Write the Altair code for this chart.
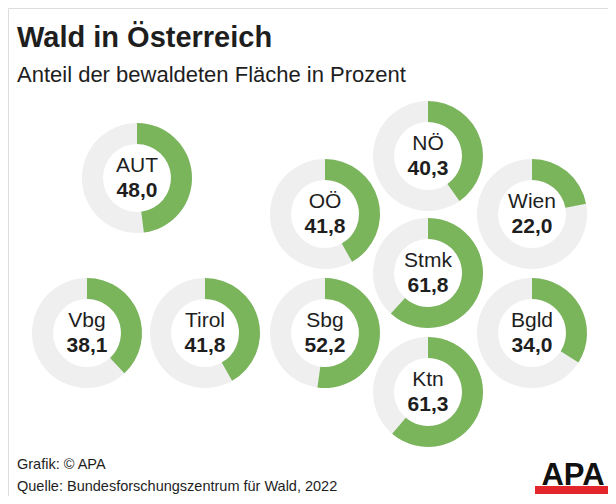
import altair as alt
import pandas as pd

regions = ["AUT", "NÖ", "OÖ", "Wien", "Stmk", "Vbg", "Tirol", "Sbg", "Bgld", "Ktn"]
values = [48.0, 40.3, 41.8, 22.0, 61.8, 38.1, 41.8, 52.2, 34.0, 61.3]
# layout position of each donut (map-like arrangement, in layout units)
pos_x = [129, 420, 317, 524, 420, 79, 197, 317, 524, 420]
pos_y = [170, 148, 206, 206, 265, 325, 325, 325, 325, 384]

labels_val = [f"{v:.1f}".replace(".", ",") for v in values]

df = pd.DataFrame({
    "region": regions,
    "value": values,
    "px": pos_x,
    "py": pos_y,
    "vlabel": labels_val,
})

W, H = 600, 488
GREEN = "#7ab55c"
GRAY = "#efefef"
FONT = "Liberation Sans"

xs = alt.Scale(domain=[0, W], range=[0, W])
ys = alt.Scale(domain=[0, H], range=[0, H])

base = alt.Chart(df).encode(
    x=alt.X("px:Q", scale=xs, axis=None),
    y=alt.Y("py:Q", scale=ys, axis=None),
)

ring = base.mark_arc(innerRadius=34, outerRadius=55, color=GRAY).encode(
    theta=alt.value(0), theta2=alt.value(6.2832)
)

arc = base.mark_arc(innerRadius=34, outerRadius=55, color=GREEN).encode(
    theta=alt.Theta("value:Q", scale=alt.Scale(domain=[0, 100], range=[0, 6.2832]), stack=False),
    theta2=alt.datum(0),
)

name_txt = base.mark_text(font=FONT, fontSize=21, color="#1e1e1e", dy=-6, baseline="alphabetic").encode(
    text="region:N"
)
val_txt = base.mark_text(font=FONT, fontSize=21, fontWeight="bold", color="#1e1e1e", dy=19, baseline="alphabetic").encode(
    text="vlabel:N"
)

def deco_text(txt, x, y, size, weight="normal", color="#1e1e1e", align="left"):
    return alt.Chart(pd.DataFrame({"t": [txt]})).mark_text(
        font=FONT, fontSize=size, fontWeight=weight, color=color, align=align, baseline="alphabetic"
    ).encode(text="t:N", x=alt.value(x), y=alt.value(y))

title = deco_text("Wald in Österreich", 9, 39, 29, "bold")
subtitle = deco_text("Anteil der bewaldeten Fläche in Prozent", 9, 74, 22)
foot1 = deco_text("Grafik: © APA", 9, 461, 14.5)
foot2 = deco_text("Quelle: Bundesforschungszentrum für Wald, 2022", 9, 483, 14.5)
logo = deco_text("APA", 565, 477, 31, "bold", "#111111", "center")
logo_bar = alt.Chart(pd.DataFrame({"a": [1]})).mark_rect(color="#e3262b").encode(
    x=alt.value(527), x2=alt.value(604), y=alt.value(478), y2=alt.value(486)
)

chart = alt.layer(
    ring, arc, name_txt, val_txt, title, subtitle, foot1, foot2, logo_bar, logo
).properties(
    width=W, height=H, autosize=alt.AutoSizeParams(type="none"), padding=0
).configure_view(stroke=None).configure(background="white")

chart.save("out.html", embed_options={"renderer": "svg", "actions": False})
